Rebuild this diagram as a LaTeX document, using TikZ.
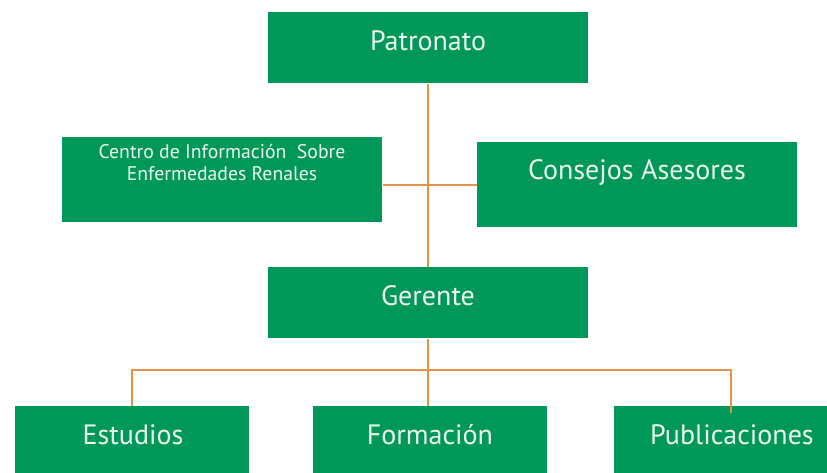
\documentclass[tikz,border=0pt]{standalone}
\usepackage{fontspec}
\setmainfont{PT Sans}
\usetikzlibrary{positioning}

\definecolor{boxgreen}{RGB}{0,152,89}
\definecolor{lineorange}{RGB}{232,145,72}
\definecolor{boxtext}{RGB}{236,246,239}

\tikzset{every picture/.style={line width=0.75pt}}
\tikzset{
  box/.style={fill=boxgreen, draw=none, inner sep=0pt, minimum width=240pt, minimum height=53.25pt},
  smallbox/.style={box, minimum width=175.5pt},
  tallbox/.style={box, minimum height=63.75pt},
  boxlabel/.style={inner sep=0.75pt, text=boxtext, font=\fontsize{21}{24}\selectfont},
  link/.style={draw=lineorange, line width=1.5pt}
}

\begin{document}
\begin{tikzpicture}[x=0.75pt,y=0.75pt,yscale=-1,xscale=1]
\useasboundingbox (0,0) rectangle (827,472);
\clip (0,0) rectangle (827,472);

%Shape: Rectangle
\node [box] (patronato) at (428,47.5) {};
\node [tallbox] (centro) at (222,179.5) {};
\node [tallbox] (consejos) at (637,184.5) {};
\node [box] (gerente) at (428,302.5) {};
\node [smallbox] (estudios) at (132,441.5) {};
\node [smallbox] (formacion) at (429.5,441.5) {};
\node [smallbox] (publicaciones) at (731,441.5) {};

%Straight Lines
\draw [link] (patronato.south) -- (gerente.north);
\draw [link] (centro.east |- consejos.west) -- (consejos.west);
\coordinate (busl) at (estudios.north |- 0,370);
\coordinate (busr) at (publicaciones.north |- 0,370);
\draw [link] (gerente.south) -- (gerente.south |- formacion.north);
\draw [link] (estudios.north) -- (busl) -- (busr) -- ([yshift=5.25pt]publicaciones.north);

% Text Node
\node [boxlabel] (patronatot) at (428,41) {Patronato};
\node [boxlabel, align=center, font=\fontsize{14.8}{16.5}\selectfont] (centrot) at (222,163) {Centro de Información~~Sobre\\Enfermedades Renales};
\node [boxlabel] (consejost) at (637,172) {Consejos Asesores};
\node [boxlabel] (gerentet) at (428,296) {Gerente};
\node [boxlabel] (estudiost) at (133,435) {Estudios};
\node [boxlabel] (formaciont) at (430,435) {Formación};
\node [boxlabel] (publicacionest) at (732,435) {Publicaciones};

\end{tikzpicture}
\end{document}
